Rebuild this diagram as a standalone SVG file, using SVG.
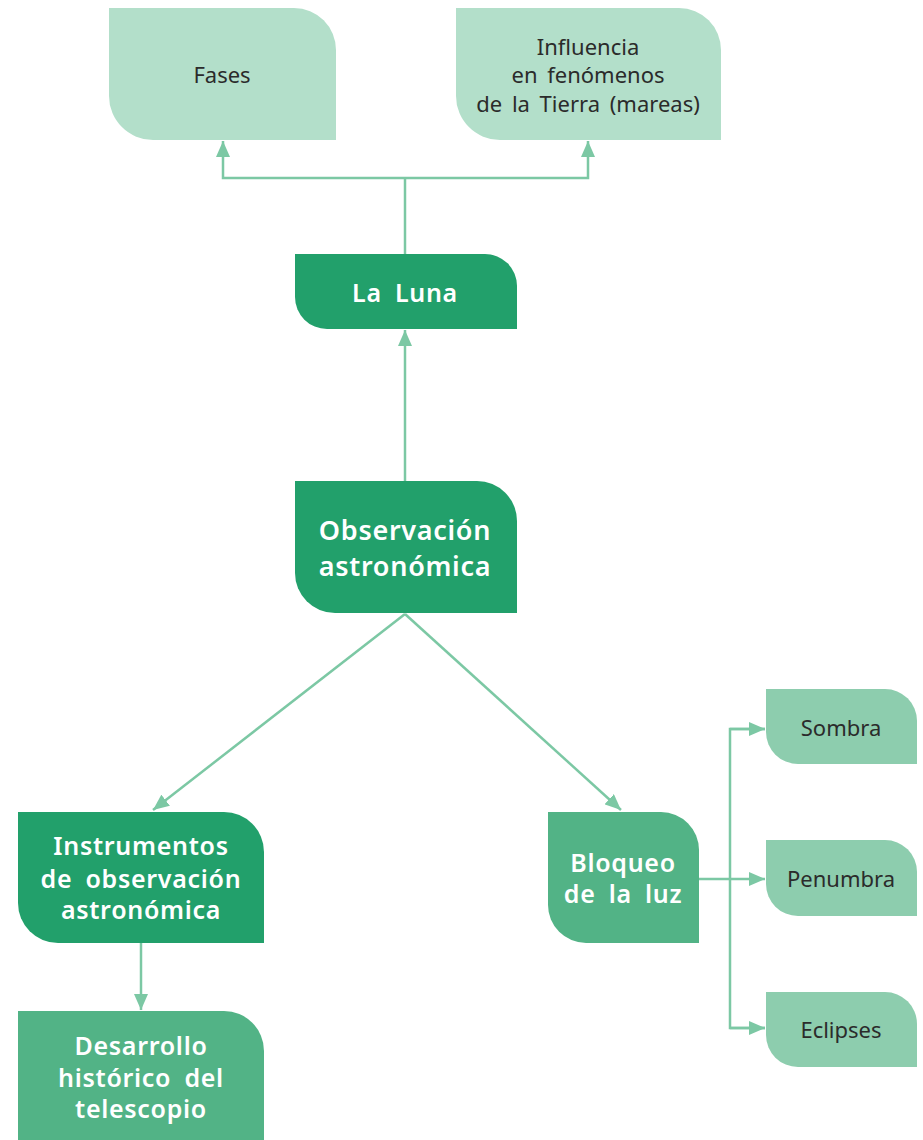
<svg xmlns="http://www.w3.org/2000/svg" width="923" height="1140" viewBox="0 0 923 1140">
  <style>
    .pale { fill: #b3dfca; }
    .dark { fill: #22a06b; }
    .mid { fill: #52b386; }
    .soft { fill: #8dcdae; }
    .lbl { font-family: "Noto Sans", "Open Sans", sans-serif; text-anchor: middle; }
    .plain { font-size: 22px; fill: #2b2b2b; word-spacing: 4px; }
    .bold { font-weight: 600; fill: #ffffff; letter-spacing: 0.7px; word-spacing: 6px; }
    .link { fill: none; stroke: #7cc8a4; stroke-width: 2.5; }
  </style>
  <defs>
    <marker id="arrow" markerUnits="userSpaceOnUse" markerWidth="18" markerHeight="14" refX="16" refY="7" orient="auto">
      <path d="M0,0 L16,7 L0,14 Z" fill="#7cc8a4"/>
    </marker>
  </defs>

  <!-- connectors -->
  <g id="connectors">
    <path class="link" d="M405,254 V178" />
    <path class="link" d="M405,178 H223 V141" marker-end="url(#arrow)"/>
    <path class="link" d="M405,178 H588 V141" marker-end="url(#arrow)"/>
    <path class="link" d="M405,481 V330" marker-end="url(#arrow)"/>
    <path class="link" d="M405,614 L153,810" marker-end="url(#arrow)"/>
    <path class="link" d="M405,614 L621,810" marker-end="url(#arrow)"/>
    <path class="link" d="M141,943 V1010" marker-end="url(#arrow)"/>
    <path class="link" d="M699,879 H765" marker-end="url(#arrow)"/>
    <path class="link" d="M765,729 H730 V1028 H765" />
    <path class="link" d="M730,729 H765" marker-end="url(#arrow)"/>
    <path class="link" d="M730,1028 H765" marker-end="url(#arrow)"/>
  </g>

  <!-- top row -->
  <g id="fases">
    <path class="pale" d="M109,8 H294 A42,42 0 0 1 336,50 V140 H153 A44,44 0 0 1 109,96 Z"/>
    <text class="lbl plain" x="222" y="83">Fases</text>
  </g>
  <g id="influencia">
    <path class="pale" d="M456,8 H679 A42,42 0 0 1 721,50 V140 H500 A44,44 0 0 1 456,96 Z"/>
    <text class="lbl plain" x="588" y="55">Influencia</text>
    <text class="lbl plain" x="588" y="83">en fenómenos</text>
    <text class="lbl plain" x="588" y="112">de la Tierra (mareas)</text>
  </g>

  <g id="la-luna">
    <path class="dark" d="M295,254 H485 A32,32 0 0 1 517,286 V329 H327 A32,32 0 0 1 295,297 Z"/>
    <text class="lbl bold" x="405" y="302" font-size="25">La Luna</text>
  </g>

  <g id="observacion">
    <path class="dark" d="M295,481 H477 A40,40 0 0 1 517,521 V613 H335 A40,40 0 0 1 295,573 Z"/>
    <text class="lbl bold" x="405" y="540" font-size="27" letter-spacing="1.3">Observación</text>
    <text class="lbl bold" x="405" y="576" font-size="27" letter-spacing="1.3">astronómica</text>
  </g>

  <g id="instrumentos">
    <path class="dark" d="M18,812 H224 A40,40 0 0 1 264,852 V943 H58 A40,40 0 0 1 18,903 Z"/>
    <text class="lbl bold" x="141" y="855" font-size="25">Instrumentos</text>
    <text class="lbl bold" x="141" y="888" font-size="25">de observación</text>
    <text class="lbl bold" x="141" y="919" font-size="25">astronómica</text>
  </g>

  <g id="desarrollo">
    <path class="mid" d="M18,1011 H224 A40,40 0 0 1 264,1051 V1140 H18 Z"/>
    <text class="lbl bold" x="141" y="1055" font-size="25">Desarrollo</text>
    <text class="lbl bold" x="141" y="1087" font-size="25">histórico del</text>
    <text class="lbl bold" x="141" y="1118" font-size="25">telescopio</text>
  </g>

  <g id="bloqueo">
    <path class="mid" d="M548,812 H661 A38,38 0 0 1 699,850 V943 H586 A38,38 0 0 1 548,905 Z"/>
    <text class="lbl bold" x="623" y="872" font-size="25">Bloqueo</text>
    <text class="lbl bold" x="623" y="903" font-size="25">de la luz</text>
  </g>

  <g id="sombra">
    <path class="soft" d="M766,689 H885 A32,32 0 0 1 917,721 V764 H798 A32,32 0 0 1 766,732 Z"/>
    <text class="lbl plain" x="841" y="736">Sombra</text>
  </g>
  <g id="penumbra">
    <path class="soft" d="M766,840 H885 A32,32 0 0 1 917,872 V916 H798 A32,32 0 0 1 766,884 Z"/>
    <text class="lbl plain" x="841" y="887">Penumbra</text>
  </g>
  <g id="eclipses">
    <path class="soft" d="M766,992 H885 A32,32 0 0 1 917,1024 V1067 H798 A32,32 0 0 1 766,1035 Z"/>
    <text class="lbl plain" x="841" y="1038">Eclipses</text>
  </g>
</svg>
